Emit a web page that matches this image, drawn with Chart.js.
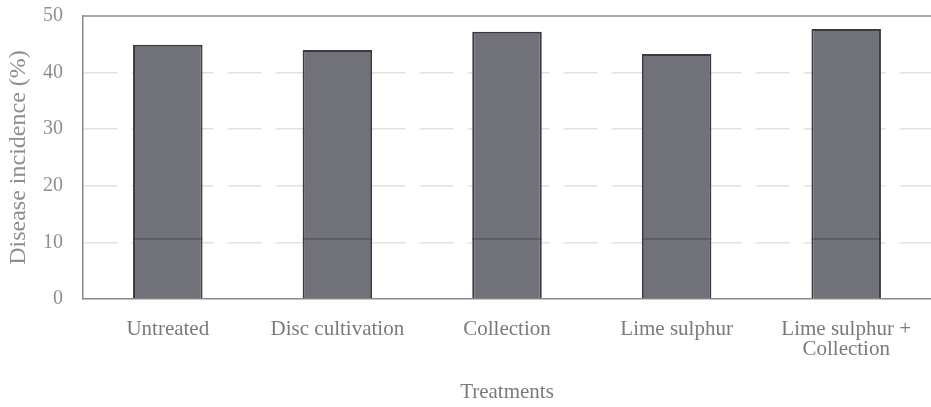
<!DOCTYPE html>
<html lang="en">
<head>
  <meta charset="UTF-8" />
  <title>Disease incidence by treatment</title>
  <script src="https://cdn.jsdelivr.net/npm/chart.js"></script>
  <style>
    body {
      margin: 0;
      background: white;
    }
    .wrap {
      width: 931px;
      height: 407px;
    }
  </style>
</head>
<body>
  <div class="wrap"><canvas id="incidenceChart"></canvas></div>

  <script>
    const treatments = ["Untreated", "Disc cultivation", "Collection", "Lime sulphur", ["Lime sulphur +", "Collection"]];
    const incidence = [44.9, 44.0, 47.2, 43.3, 47.7];
    const yTicks = [0, 10, 20, 30, 40, 50];

    const serif = "'Liberation Serif', 'DejaVu Serif', serif";

    // top frame line plus the faint band line that shows across every bar
    const framePlugin = {
      id: "frame",
      afterDatasetsDraw(chart) {
        const { ctx, chartArea } = chart;
        const y = chart.scales.y;
        ctx.save();
        ctx.strokeStyle = "#8a8a8a";
        ctx.lineWidth = 1.5;
        ctx.beginPath();
        ctx.moveTo(chartArea.left, chartArea.top);
        ctx.lineTo(chartArea.right, chartArea.top);
        ctx.stroke();
        const meta = chart.getDatasetMeta(0);
        ctx.strokeStyle = "rgba(40,40,60,0.55)";
        ctx.lineWidth = 1;
        const yy = y.getPixelForValue(10.6);
        meta.data.forEach(bar => {
          ctx.beginPath();
          ctx.moveTo(bar.x - bar.width / 2, yy);
          ctx.lineTo(bar.x + bar.width / 2, yy);
          ctx.stroke();
        });
        ctx.restore();
      }
    };

    new Chart(document.getElementById("incidenceChart"), {
      type: "bar",
      data: {
        labels: treatments,
        datasets: [{
          label: "Disease incidence (%)",
          data: incidence,
          backgroundColor: "#717179",
          borderColor: "#3a3a40",
          borderWidth: 2,
          barPercentage: 0.41,
          categoryPercentage: 1.0
        }]
      },
      options: {
        responsive: true,
        maintainAspectRatio: false,
        animation: false,
        layout: { padding: { top: 16, right: 0, bottom: 0, left: 0 } },
        plugins: {
          legend: { display: false },
          tooltip: { enabled: false }
        },
        scales: {
          x: {
            afterFit(scale) { scale.height = 108; },
            grid: { display: false },
            border: { color: "#8a8a8a", width: 1.5 },
            ticks: {
              color: "#7a7a7a",
              font: { family: serif, size: 21, lineHeight: 0.95 },
              padding: 13,
              maxRotation: 0
            },
            title: {
              display: true,
              text: "Treatments",
              color: "#7a7a7a",
              font: { family: serif, size: 21 },
              padding: { top: 0, bottom: 2 }
            }
          },
          y: {
            min: 0,
            max: 50,
            afterFit(scale) {
              scale.width = 83;
              scale.paddingTop = 0;
              scale.paddingBottom = 0;
            },
            afterBuildTicks(axis) {
              axis.ticks = yTicks.map(v => ({ value: v }));
            },
            grid: {
              color: ctx => (ctx.tick.value === 0 || ctx.tick.value === 50) ? "rgba(0,0,0,0)" : "#e2e2e2",
              lineWidth: 1.5,
              drawTicks: false
            },
            border: { color: "#8a8a8a", width: 1.5, dash: [34, 14] },
            ticks: {
              color: "#8e8e8e",
              font: { family: serif, size: 20 },
              padding: 20
            },
            title: {
              display: true,
              text: "Disease incidence (%)",
              color: "#8e8e8e",
              font: { family: serif, size: 24 },
              padding: { top: 4, bottom: 0 }
            }
          }
        }
      },
      plugins: [framePlugin]
    });
  </script>
</body>
</html>
